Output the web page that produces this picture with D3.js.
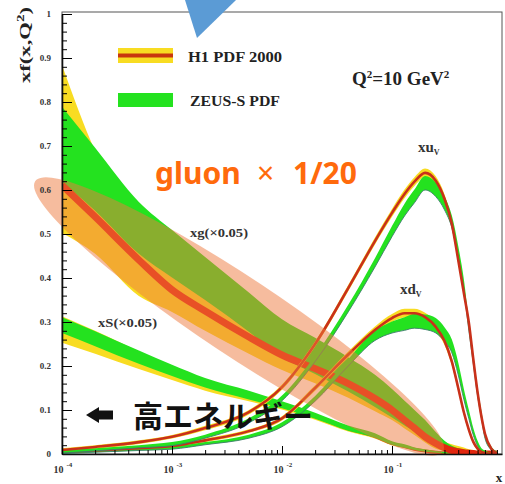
<!DOCTYPE html>
<html>
<head>
<meta charset="utf-8">
<script src="https://cdn.jsdelivr.net/npm/d3@7"></script>
<style>
  html, body { margin: 0; padding: 0; background: #fff; }
  svg { display: block; }
</style>
</head>
<body>
<script>
// x grid shared by every curve
const xGrid = [1e-4, 2e-4, 5e-4, 1e-3, 2e-3, 5e-3, 0.01, 0.02, 0.04, 0.07, 0.1, 0.13, 0.16, 0.2,
  0.25, 0.3, 0.35, 0.4, 0.45, 0.5, 0.55, 0.6, 0.65, 0.7, 0.8, 0.9];

// xg (x0.05)
const h1GluonMid = [0.611, 0.539, 0.441, 0.373, 0.325, 0.266, 0.225, 0.194, 0.160, 0.126, 0.100, 0.077, 0.059,
  0.039, 0.024, 0.014, 0.008, 0.005, 0.003, 0.002, 0.001, 0, 0, 0, 0, 0];
const h1GluonHigh = [0.884, 0.689, 0.518, 0.411, 0.370, 0.301, 0.255, 0.219, 0.181, 0.145, 0.123, 0.097, 0.076,
  0.055, 0.035, 0.027, 0.022, 0.018, 0.015, 0.011, 0.009, 0.006, 0.004, 0.003, 0.001, 0];
const h1GluonLow = [0.502, 0.455, 0.359, 0.323, 0.280, 0.228, 0.191, 0.161, 0.128, 0.097, 0.077, 0.058, 0.043,
  0.026, 0.012, 0.007, 0.005, 0.003, 0.002, 0.001, 0, 0, 0, 0, 0, 0];
const zeusGluonHigh = [0.789, 0.696, 0.573, 0.509, 0.448, 0.367, 0.306, 0.264, 0.220, 0.180, 0.148, 0.121, 0.100,
  0.077, 0.050, 0.030, 0.019, 0.013, 0.010, 0.008, 0.005, 0.003, 0.002, 0.001, 0, 0];
const zeusGluonLow = [0.618, 0.553, 0.455, 0.401, 0.350, 0.278, 0.220, 0.182, 0.142, 0.107, 0.083, 0.065, 0.051,
  0.036, 0.020, 0.009, 0.007, 0.005, 0.004, 0.003, 0.002, 0.001, 0, 0, 0, 0];

// xS (x0.05)
const h1SeaMid = [0.283, 0.254, 0.213, 0.184, 0.157, 0.130, 0.109, 0.085, 0.057, 0.040, 0.024, 0.017, 0.011,
  0.007, 0.004, 0.002, 0.001, 0.001, 0, 0, 0, 0, 0, 0, 0, 0];
const h1SeaErr = [0.030, 0.026, 0.020, 0.016, 0.013, 0.010, 0.008, 0.007, 0.006, 0.005, 0.004, 0.003, 0.003,
  0.002, 0.002, 0.001, 0.001, 0, 0, 0, 0, 0, 0, 0, 0, 0];
const zeusSeaMid = [0.293, 0.262, 0.220, 0.190, 0.162, 0.134, 0.112, 0.087, 0.059, 0.042, 0.025, 0.018, 0.012,
  0.008, 0.005, 0.003, 0.002, 0.001, 0, 0, 0, 0, 0, 0, 0, 0];
const zeusSeaErr = [0.018, 0.017, 0.015, 0.013, 0.011, 0.010, 0.008, 0.007, 0.006, 0.005, 0.004, 0.004, 0.003,
  0.003, 0.002, 0.002, 0.001, 0.001, 0, 0, 0, 0, 0, 0, 0, 0];

// xu_v
const h1UvMid = [0.009, 0.016, 0.027, 0.039, 0.059, 0.095, 0.152, 0.250, 0.377, 0.484, 0.548, 0.591, 0.619,
  0.639, 0.621, 0.580, 0.523, 0.441, 0.366, 0.298, 0.213, 0.140, 0.085, 0.046, 0.012, 0.001];
const h1UvErr = [0.004, 0.004, 0.004, 0.004, 0.005, 0.005, 0.006, 0.006, 0.007, 0.008, 0.009, 0.010, 0.010,
  0.010, 0.010, 0.010, 0.009, 0.009, 0.008, 0.008, 0.007, 0.006, 0.005, 0.004, 0.003, 0.002];
const zeusUvMid = [0.005, 0.010, 0.017, 0.023, 0.040, 0.076, 0.127, 0.217, 0.331, 0.435, 0.506, 0.555, 0.586,
  0.616, 0.601, 0.570, 0.528, 0.460, 0.385, 0.291, 0.213, 0.141, 0.090, 0.043, 0.013, 0.003];
const zeusUvErr = [0.003, 0.003, 0.003, 0.004, 0.004, 0.005, 0.006, 0.007, 0.008, 0.010, 0.012, 0.014, 0.015,
  0.016, 0.016, 0.015, 0.014, 0.013, 0.012, 0.011, 0.010, 0.009, 0.008, 0.007, 0.004, 0.002];

// xd_v
const h1DvMid = [0.005, 0.008, 0.013, 0.018, 0.031, 0.052, 0.081, 0.150, 0.226, 0.282, 0.309, 0.320, 0.320,
  0.311, 0.289, 0.257, 0.210, 0.150, 0.095, 0.055, 0.027, 0.012, 0.005, 0.002, 0, 0];
const h1DvErr = [0.003, 0.003, 0.003, 0.003, 0.004, 0.004, 0.005, 0.006, 0.007, 0.008, 0.009, 0.010, 0.010,
  0.010, 0.010, 0.009, 0.009, 0.008, 0.007, 0.006, 0.005, 0.004, 0.003, 0.002, 0.001, 0.001];
const zeusDvMid = [0.003, 0.006, 0.010, 0.014, 0.024, 0.040, 0.067, 0.126, 0.208, 0.269, 0.288, 0.296, 0.302,
  0.300, 0.292, 0.272, 0.245, 0.194, 0.136, 0.090, 0.050, 0.024, 0.008, 0.004, 0, 0];
const zeusDvErr = [0.002, 0.002, 0.002, 0.003, 0.003, 0.004, 0.005, 0.006, 0.008, 0.011, 0.013, 0.015, 0.016,
  0.017, 0.017, 0.016, 0.015, 0.014, 0.012, 0.010, 0.008, 0.006, 0.005, 0.004, 0.002, 0.001];

// axes
const yMajor = [0, 0.1, 0.2, 0.3, 0.4, 0.5, 0.6, 0.7, 0.8, 0.9, 1];
const xMajor = [1e-4, 1e-3, 1e-2, 1e-1];
const xMajorExp = ["-4", "-3", "-2", "-1"];

const width = 505, height = 484;
const serif = "'Liberation Serif', 'Times New Roman', serif";

const YELLOW = "#f8dc22", RED = "#e2260e", VRED = "#c9301a", GREEN = "#24e21f", EDGE = "#3d7c6c";

const svg = d3.select("body").append("svg")
  .attr("width", width)
  .attr("height", height);

const x = d3.scaleLog().domain([1e-4, 1]).range([62, 502]);
const y = d3.scaleLinear().domain([0, 1]).range([454, 14]);

svg.append("defs").append("clipPath").attr("id", "plot")
  .append("rect")
  .attr("x", x(1e-4)).attr("y", y(1) - 2)
  .attr("width", x(1) - x(1e-4)).attr("height", y(0) - y(1) + 2);

// frame
svg.append("rect")
  .attr("x", x(1e-4)).attr("y", y(1) - 2)
  .attr("width", x(1) - x(1e-4)).attr("height", y(0) - y(1) + 2)
  .attr("fill", "none").attr("stroke", "#555").attr("stroke-width", 1);

const plot = svg.append("g").attr("clip-path", "url(#plot)");

const areaOf = (lo, hi) => d3.area()
  .x((d, i) => x(xGrid[i]))
  .y0((d, i) => y(Math.max(0, lo[i])))
  .y1((d, i) => y(hi[i]))
  .curve(d3.curveMonotoneX)(xGrid);

const lineOf = vals => d3.line()
  .x((d, i) => x(xGrid[i]))
  .y(d => y(d))
  .curve(d3.curveMonotoneX)(vals);

const minus = (m, e) => m.map((v, i) => v - e[i]);
const plus = (m, e) => m.map((v, i) => v + e[i]);

// sea: H1 under ZEUS
plot.append("path").attr("d", areaOf(minus(h1SeaMid, h1SeaErr), plus(h1SeaMid, h1SeaErr))).attr("fill", YELLOW);
plot.append("path").attr("d", lineOf(h1SeaMid)).attr("fill", "none").attr("stroke", RED).attr("stroke-width", 3);
plot.append("path").attr("d", areaOf(minus(zeusSeaMid, zeusSeaErr), plus(zeusSeaMid, zeusSeaErr))).attr("fill", GREEN);

// gluon
plot.append("path").attr("d", areaOf(h1GluonLow, h1GluonHigh)).attr("fill", YELLOW);
plot.append("path").attr("d", areaOf(zeusGluonLow, zeusGluonHigh)).attr("fill", GREEN);
plot.append("path").attr("d", lineOf(h1GluonMid)).attr("fill", "none").attr("stroke", RED).attr("stroke-width", 7);

// valence quarks
[[h1DvMid, h1DvErr, zeusDvMid, zeusDvErr], [h1UvMid, h1UvErr, zeusUvMid, zeusUvErr]].forEach(([hm, he, zm, ze]) => {
  plot.append("path").attr("d", areaOf(minus(hm, he), plus(hm, he))).attr("fill", YELLOW);
  plot.append("path").attr("d", areaOf(minus(zm, ze), plus(zm, ze))).attr("fill", GREEN);
  plot.append("path").attr("d", lineOf(minus(zm, ze).map(v => Math.max(0, v))))
    .attr("fill", "none").attr("stroke", EDGE).attr("stroke-width", 0.9);
  plot.append("path").attr("d", lineOf(hm)).attr("fill", "none").attr("stroke", VRED).attr("stroke-width", 2.6);
});

// highlight ellipse over the gluon band
const e1 = [x(5.7e-5), y(0.62)], e2 = [x(0.29), y(0.005)];
const ecx = (e1[0] + e2[0]) / 2, ecy = (e1[1] + e2[1]) / 2;
const erx = Math.hypot(e2[0] - e1[0], e2[1] - e1[1]) / 2;
const eang = Math.atan2(e2[1] - e1[1], e2[0] - e1[0]) * 180 / Math.PI;
svg.append("ellipse")
  .attr("cx", ecx).attr("cy", ecy).attr("rx", erx).attr("ry", 39)
  .attr("transform", `rotate(${eang} ${ecx} ${ecy})`)
  .attr("fill", "rgba(238,122,62,0.5)");

// y axis
const yAxis = svg.append("g").attr("transform", `translate(${x(1e-4)},0)`)
  .call(d3.axisLeft(y).tickValues(yMajor).tickSize(-10).tickSizeOuter(0).tickPadding(11)
    .tickFormat(d => (d === 0 || d === 1) ? String(d) : d.toFixed(1)));
svg.append("g").attr("transform", `translate(${x(1e-4)},0)`)
  .call(d3.axisLeft(y).tickValues(d3.range(0, 1.001, 0.02)).tickSize(-5).tickSizeOuter(0).tickFormat(""))
  .call(g => g.select(".domain").remove());
yAxis.select(".domain").attr("stroke-width", 1.6).attr("stroke", "#111");
yAxis.selectAll("text").attr("font-family", serif).attr("font-weight", "bold").attr("font-size", 9).attr("fill", "#333");

// x axis
const minorX = [];
[1e-4, 1e-3, 1e-2, 1e-1].forEach(d => { for (let k = 2; k <= 9; k++) minorX.push(d * k); });
const xAxis = svg.append("g").attr("transform", `translate(0,${y(0)})`)
  .call(d3.axisBottom(x).tickValues(xMajor).tickSize(-8).tickSizeOuter(0).tickFormat(""));
svg.append("g").attr("transform", `translate(0,${y(0)})`)
  .call(d3.axisBottom(x).tickValues(minorX).tickSize(-4).tickSizeOuter(0).tickFormat(""))
  .call(g => g.select(".domain").remove());
xAxis.select(".domain").attr("stroke-width", 1.6).attr("stroke", "#111");
xAxis.selectAll(".tick").each(function (d, i) {
  const t = d3.select(this).append("text")
    .attr("x", -9).attr("y", 19)
    .attr("text-anchor", "start")
    .attr("fill", "#333").attr("font-family", serif).attr("font-weight", "bold").attr("font-size", 10);
  t.append("tspan").text("10");
  t.append("tspan").attr("dx", 3).attr("dy", -6).attr("font-size", 7).text(xMajorExp[i]);
});

svg.append("text").attr("x", 499).attr("y", 482).attr("text-anchor", "middle")
  .attr("font-family", serif).attr("font-weight", "bold").attr("font-size", 13).attr("fill", "#222").text("x");

// y title
svg.append("text")
  .attr("transform", "translate(30,45) rotate(-90)")
  .attr("text-anchor", "middle")
  .attr("font-family", serif).attr("font-weight", "bold").attr("font-size", 15).attr("fill", "#222")
  .attr("textLength", 76).attr("lengthAdjust", "spacingAndGlyphs")
  .call(t => {
    t.append("tspan").text("xf(x,Q");
    t.append("tspan").attr("dy", -6).attr("font-size", 10).text("2");
    t.append("tspan").attr("dy", 6).text(")");
  });

// legend
svg.append("rect").attr("x", 118).attr("y", 48).attr("width", 55).attr("height", 15).attr("fill", YELLOW);
svg.append("rect").attr("x", 118).attr("y", 53.5).attr("width", 55).attr("height", 4).attr("fill", "#c8360e");
svg.append("rect").attr("x", 118).attr("y", 93).attr("width", 55).attr("height", 14).attr("fill", GREEN);
svg.append("text").attr("x", 188).attr("y", 62).attr("font-family", serif).attr("font-weight", "bold")
  .attr("font-size", 14).attr("fill", "#222").attr("textLength", 94).attr("lengthAdjust", "spacingAndGlyphs")
  .text("H1 PDF 2000");
svg.append("text").attr("x", 190).attr("y", 106).attr("font-family", serif).attr("font-weight", "bold")
  .attr("font-size", 14).attr("fill", "#222").attr("textLength", 90).attr("lengthAdjust", "spacingAndGlyphs")
  .text("ZEUS-S PDF");

// Q2 label
svg.append("text").attr("x", 352).attr("y", 85).attr("font-family", serif).attr("font-weight", "bold")
  .attr("font-size", 19).attr("fill", "#222")
  .call(t => {
    t.append("tspan").text("Q");
    t.append("tspan").attr("dy", -7).attr("font-size", 11).text("2");
    t.append("tspan").attr("dy", 7).text("=10 GeV");
    t.append("tspan").attr("dy", -7).attr("font-size", 11).text("2");
  });

// curve labels
const curveLabel = (px, py, main, sub, size) => {
  const t = svg.append("text").attr("x", px).attr("y", py)
    .attr("font-family", serif).attr("font-weight", "bold").attr("font-size", size).attr("fill", "#333");
  t.append("tspan").text(main);
  if (sub) t.append("tspan").attr("dy", 3).attr("font-size", 8).text(sub);
  return t;
};
curveLabel(418, 152, "xu", "V", 15);
curveLabel(400, 294, "xd", "V", 15);
curveLabel(190, 237, "xg(\u00d70.05)", null, 12).attr("textLength", 58).attr("lengthAdjust", "spacingAndGlyphs");
curveLabel(98, 327, "xS(\u00d70.05)", null, 12).attr("textLength", 59).attr("lengthAdjust", "spacingAndGlyphs");

// annotations
const orange = "#ff6a0c";
const gl = svg.append("text").attr("y", 184).attr("font-family", "'Noto Sans', sans-serif")
  .attr("font-size", 30).attr("font-weight", "bold").attr("fill", orange);
gl.append("tspan").attr("x", 155).text("gluon");
gl.append("tspan").attr("x", 257).attr("font-weight", "normal").text("\u00d7");
gl.append("tspan").attr("x", 293).text("1/20");

svg.append("path")
  .attr("transform", "translate(86,415)")
  .attr("d", "M0,0 L13,-8 L13,-4.5 L27,-4.5 L27,4.5 L13,4.5 L13,8 Z")
  .attr("fill", "#111");
svg.append("text").attr("x", 133).attr("y", 414).attr("dominant-baseline", "central")
  .attr("font-family", "'Noto Sans CJK JP', sans-serif").attr("font-weight", "bold")
  .attr("font-size", 30).attr("fill", "#111")
  .text("高エネルギー");

// pointer triangle at the top
svg.append("path").attr("d", "M185,0 L236,0 L197,38 Z").attr("fill", "#5b9bd5");
</script>
</body>
</html>
